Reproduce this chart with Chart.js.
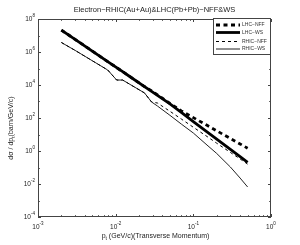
<!DOCTYPE html>
<html><head><meta charset="utf-8">
<script src="https://cdn.jsdelivr.net/npm/chart.js@4"></script>
<style>html,body{margin:0;padding:0;background:#fff}canvas{display:block}</style>
</head><body>
<canvas id="c" width="300" height="245"></canvas>
<script>
// transverse momentum (GeV/c)
const pt      = [0.002, 0.003, 0.005, 0.0079, 0.0103, 0.0123, 0.015, 0.0235, 0.029, 0.0345, 0.05, 0.07, 0.1, 0.15, 0.2, 0.3, 0.4, 0.5];
const lhcNFF  = [2.14e7, 5.85e6, 1.14e6, 2.63e5, 1.13e5, 6.4e4, 3.39e4, 8.05e3, 4.4e3, 2.55e3, 760, 271, 105, 36, 16.8, 5.7, 2.67, 1.48];
const lhcWS   = [2.14e7, 5.85e6, 1.14e6, 2.63e5, 1.13e5, 6.4e4, 3.39e4, 8.05e3, 4.12e3, 2.36e3, 718, 218, 61, 14.5, 5.2, 1.24, 0.45, 0.204];
const rhicNFF = [3.77e6, 1.26e6, 2.95e5, 8.1e4, 2.0e4, 2.0e4, 1.15e4, 3.3e3, 933, 810, 255, 87, 27.5, 7.6, 2.97, 0.82, 0.33, 0.16];
const rhicWS  = [3.77e6, 1.26e6, 2.95e5, 8.1e4, 2.0e4, 2.0e4, 1.15e4, 3.3e3, 933, 533, 145, 43, 12.3, 2.3, 0.71, 0.107, 0.023, 0.0066];
const xTicks = [1e-3, 1e-2, 1e-1, 1];
const xTickExp = ['-3', '-2', '-1', '0'];
const yTicks = [1e-4, 1e-2, 1, 1e2, 1e4, 1e6, 1e8];
const yTickExp = ['-4', '-2', '0', '2', '4', '6', '8'];
const seriesNames = ['LHC\u2212NFF', 'LHC\u2212WS', 'RHIC\u2212NFF', 'RHIC\u2212WS'];
const titleText = 'Electron\u2212RHIC(Au+Au)&LHC(Pb+Pb)\u2212NFF&WS';

const styles = [
  {w: 2.8, dash: [4, 3.5], color: '#000'},
  {w: 2.8, dash: [], color: '#000'},
  {w: 1, dash: [3, 3], color: '#000'},
  {w: 1, dash: [], color: '#222'}
];
const seriesData = [lhcNFF, lhcWS, rhicNFF, rhicWS];
const FONT = '"Liberation Sans", Arial, Helvetica, sans-serif';

function pow10(ctx, x, y, exp, align, size) {
  ctx.font = size + 'px ' + FONT;
  const w1 = ctx.measureText('10').width;
  ctx.font = (size * 0.7) + 'px ' + FONT;
  const w2 = ctx.measureText(exp).width;
  const tot = w1 + w2;
  let x0 = align === 'right' ? x - tot : x - tot / 2;
  ctx.textAlign = 'left';
  ctx.textBaseline = 'middle';
  ctx.font = size + 'px ' + FONT;
  ctx.fillText('10', x0, y);
  ctx.font = (size * 0.7) + 'px ' + FONT;
  ctx.fillText(exp, x0 + w1, y - size * 0.45);
}

const deco = {
  id: 'deco',
  afterDatasetsDraw(chart) {
    const ctx = chart.ctx;
    const a = chart.chartArea;
    const xs = chart.scales.x, ys = chart.scales.y;
    ctx.save();
    ctx.fillStyle = '#222';
    ctx.strokeStyle = '#444';
    ctx.lineWidth = 1;
    ctx.strokeRect(a.left + 0.5, a.top + 0.5, a.right - a.left - 1, a.bottom - a.top - 1);
    ctx.beginPath();
    for (let d = -3; d <= 0; d++) {
      for (let k = 1; k <= 9; k++) {
        const v = k * Math.pow(10, d);
        if (v > 1.0001) break;
        const px = Math.round(xs.getPixelForValue(v)) + 0.5;
        const len = k === 1 ? 3 : 1.8;
        ctx.moveTo(px, a.bottom); ctx.lineTo(px, a.bottom - len);
        ctx.moveTo(px, a.top); ctx.lineTo(px, a.top + len);
      }
    }
    for (let d = -4; d <= 8; d++) {
      const py = Math.round(ys.getPixelForValue(Math.pow(10, d))) + 0.5;
      const len = (d % 2 === 0) ? 3 : 1.8;
      ctx.moveTo(a.left, py); ctx.lineTo(a.left + len, py);
      ctx.moveTo(a.right, py); ctx.lineTo(a.right - len, py);
    }
    ctx.stroke();
    ctx.fillStyle = '#222';
    xTicks.forEach((v, i) => pow10(ctx, xs.getPixelForValue(v), a.bottom + 10, xTickExp[i], 'center', 6.5));
    yTicks.forEach((v, i) => pow10(ctx, a.left - 3, ys.getPixelForValue(v), yTickExp[i], 'right', 6.5));
    ctx.textAlign = 'center'; ctx.textBaseline = 'middle';
    ctx.font = '7.5px ' + FONT;
    ctx.fillText(titleText, (a.left + a.right) / 2, 10);
    ctx.font = '7px ' + FONT;
    const p1 = 'p', p2 = 't', p3 = ' (GeV/c)(Transverse Momentum)';
    const wA = ctx.measureText(p1).width, wC = ctx.measureText(p3).width;
    ctx.font = '5px ' + FONT; const wB = ctx.measureText(p2).width;
    let x0 = (a.left + a.right) / 2 - (wA + wB + wC) / 2 + 1;
    const yl = 236;
    ctx.textAlign = 'left';
    ctx.font = '7px ' + FONT; ctx.fillText(p1, x0, yl);
    ctx.font = '5px ' + FONT; ctx.fillText(p2, x0 + wA, yl + 3);
    ctx.font = '7px ' + FONT; ctx.fillText(p3, x0 + wA + wB, yl);
    ctx.save();
    ctx.translate(11, 128);
    ctx.rotate(-Math.PI / 2);
    const q1 = 'd\u03c3 / dp', q2 = 't', q3 = '(barn/GeV/c)';
    ctx.font = '7px ' + FONT;
    const vA = ctx.measureText(q1).width, vC = ctx.measureText(q3).width;
    ctx.font = '5px ' + FONT; const vB = ctx.measureText(q2).width;
    let y0 = -(vA + vB + vC) / 2;
    ctx.font = '7px ' + FONT; ctx.fillText(q1, y0, 0);
    ctx.font = '5px ' + FONT; ctx.fillText(q2, y0 + vA, 3);
    ctx.font = '7px ' + FONT; ctx.fillText(q3, y0 + vA + vB, 0);
    ctx.restore();
    const lx = 213, ly = 18, lw = a.right - lx, lh = 37;
    ctx.fillStyle = '#fff';
    ctx.fillRect(lx, ly, lw, lh);
    ctx.strokeStyle = '#444'; ctx.lineWidth = 1;
    ctx.strokeRect(lx + 0.5, ly + 0.5, lw - 1, lh - 1);
    const rows = [25, 32.5, 41.5, 49];
    ctx.font = '5px ' + FONT;
    ctx.textBaseline = 'middle'; ctx.textAlign = 'left';
    seriesNames.forEach((n, i) => {
      const s = styles[i];
      ctx.strokeStyle = s.color; ctx.lineWidth = s.w; ctx.setLineDash(s.dash);
      ctx.beginPath(); ctx.moveTo(216, rows[i]); ctx.lineTo(240, rows[i]); ctx.stroke();
      ctx.setLineDash([]);
      ctx.fillStyle = '#333';
      ctx.fillText(n, 242, rows[i]);
    });
    ctx.restore();
  }
};

new Chart(document.getElementById('c'), {
  type: 'line',
  data: {
    datasets: seriesData.map((arr, i) => ({
      label: seriesNames[i],
      data: pt.map((x, j) => ({x: x, y: arr[j]})),
      borderColor: styles[i].color,
      borderWidth: styles[i].w,
      borderDash: styles[i].dash,
      pointRadius: 0,
      fill: false,
      tension: 0
    }))
  },
  options: {
    responsive: false,
    animation: false,
    layout: {padding: {left: 38, right: 29, top: 19, bottom: 28}},
    plugins: {legend: {display: false}, title: {display: false}, tooltip: {enabled: false}},
    scales: {
      x: {type: 'logarithmic', min: 1e-3, max: 1, display: false},
      y: {type: 'logarithmic', min: 1e-4, max: 1e8, display: false}
    }
  },
  plugins: [deco]
});
</script>
</body></html>
